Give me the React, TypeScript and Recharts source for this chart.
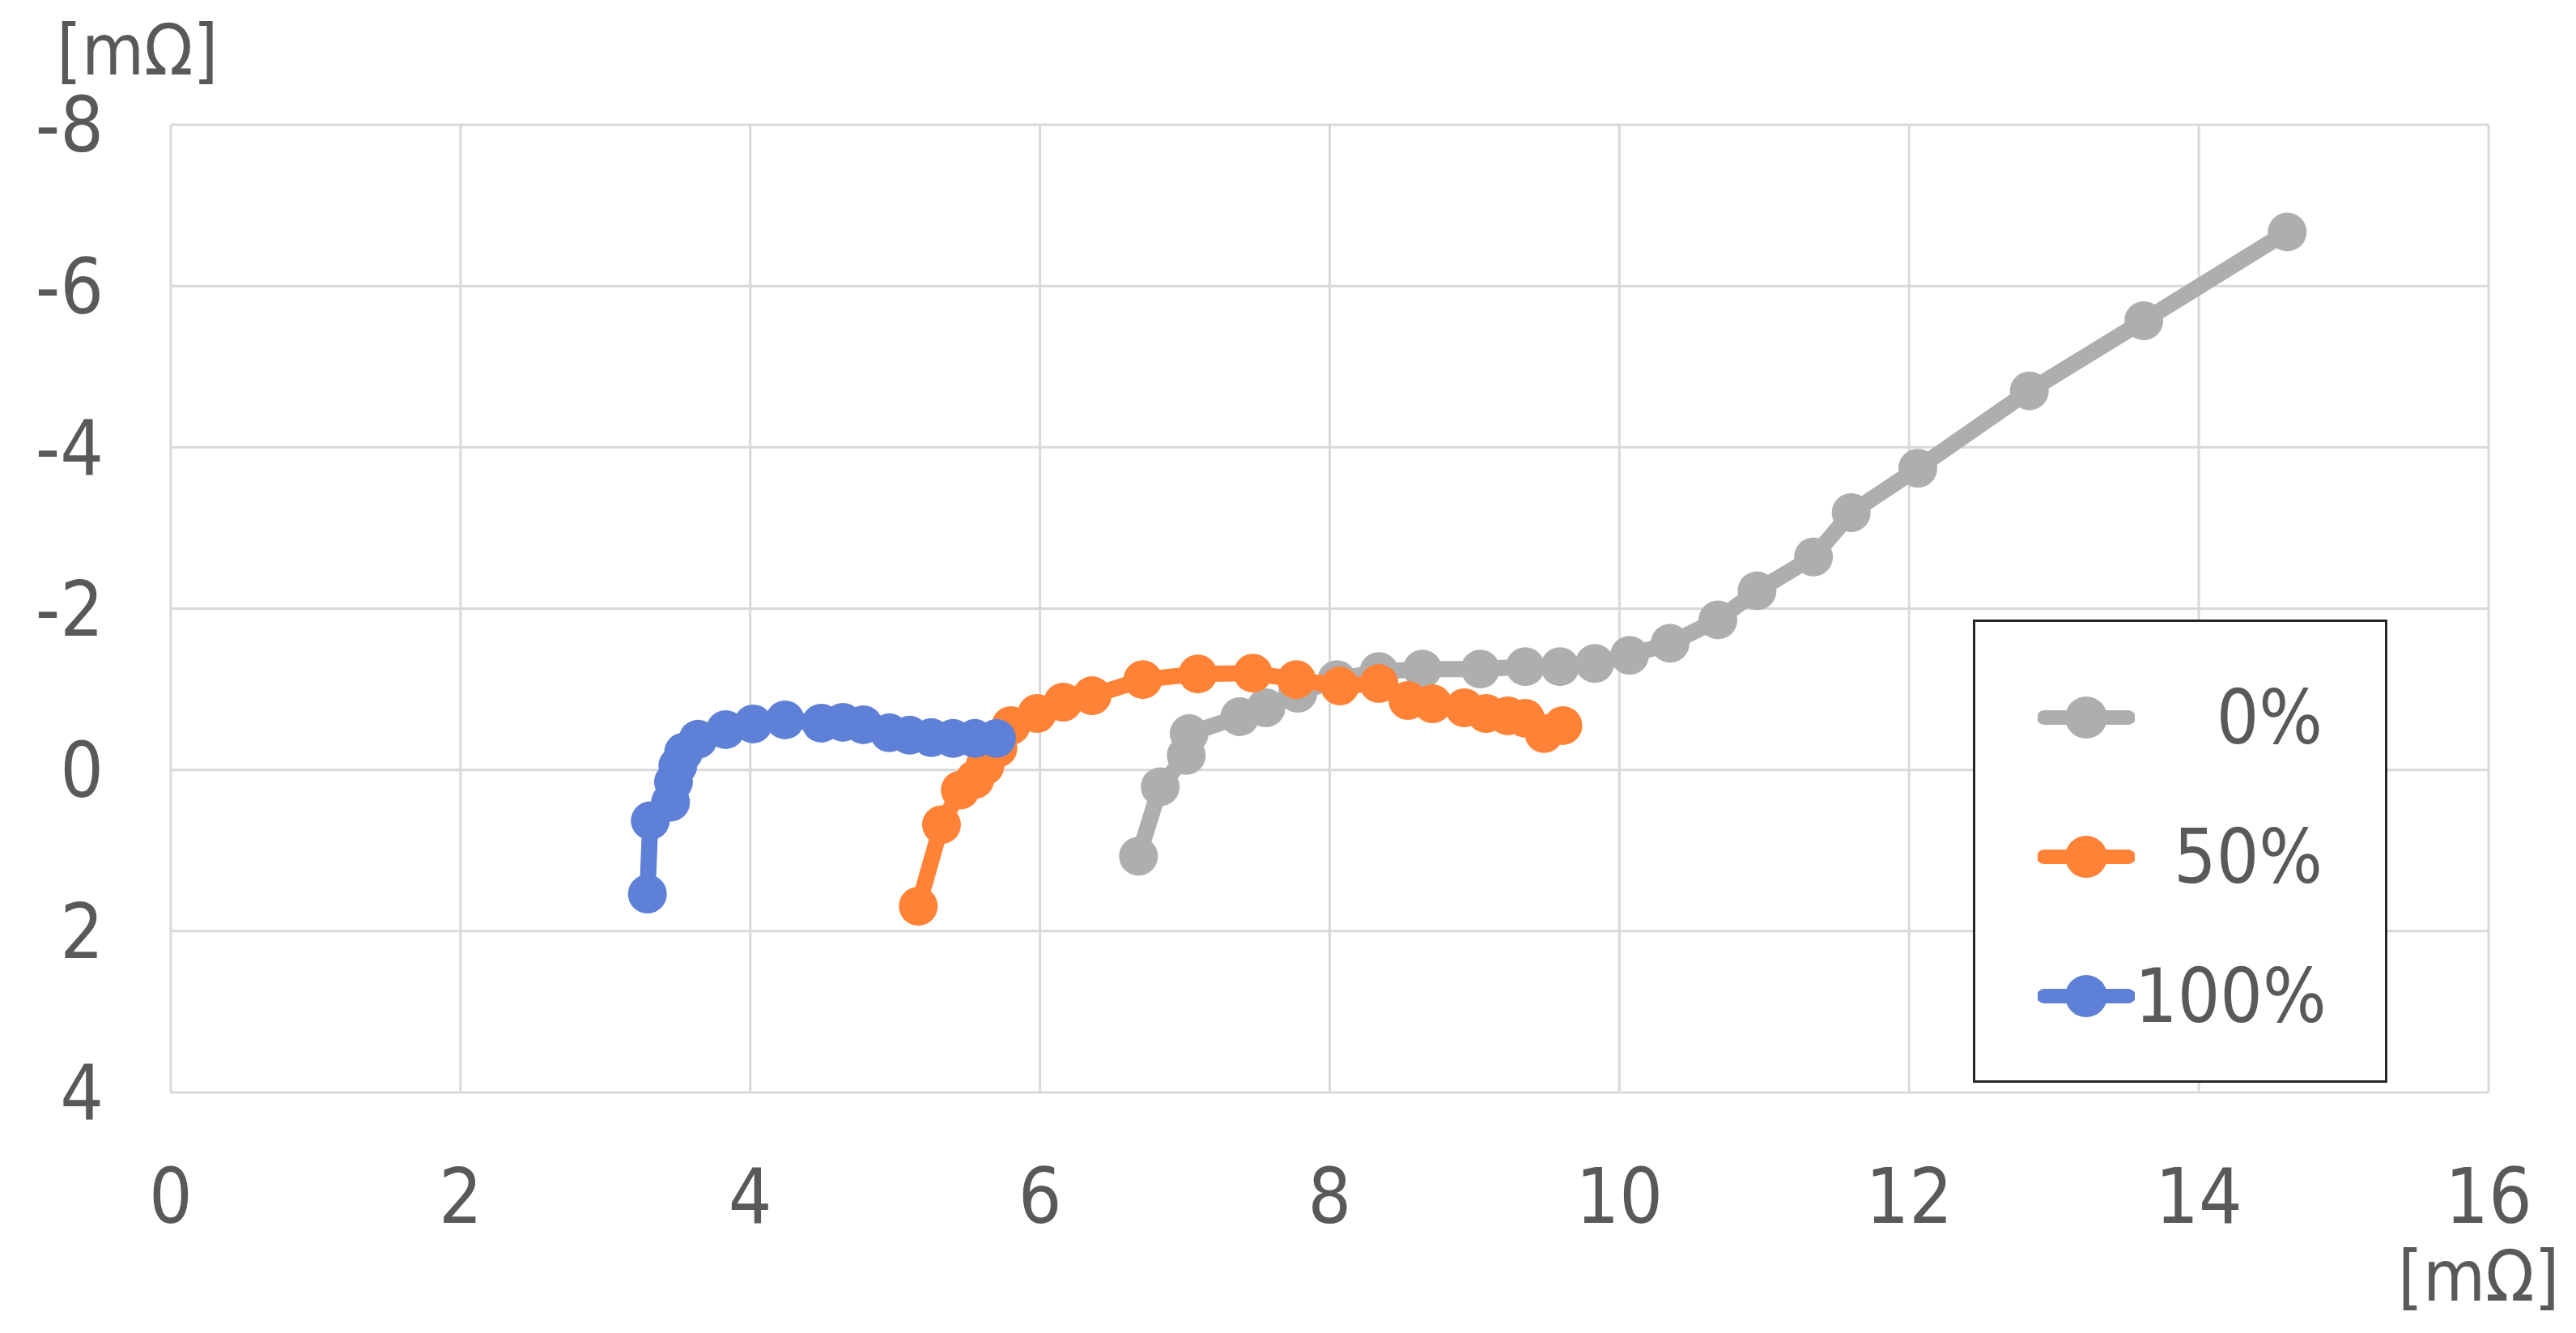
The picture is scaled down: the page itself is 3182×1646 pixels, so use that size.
import React from 'react';
import { ScatterChart, Scatter, XAxis, YAxis, CartesianGrid } from 'recharts';

const xTicks = [0, 2, 4, 6, 8, 10, 12, 14, 16];
const yTicks = [-8, -6, -4, -2, 0, 2, 4];

const seriesNames = ['0%', '50%', '100%'];
const seriesColors = ['#AEAEAE', '#FF8236', '#5E80D6'];

const x0 = [6.68, 6.83, 7.01, 7.03, 7.38, 7.56, 7.78, 8.05, 8.34, 8.64, 9.04, 9.35, 9.59, 9.83, 10.07, 10.35, 10.68, 10.95, 11.34, 11.6, 12.06, 12.83, 13.62, 14.61];
const y0 = [1.07, 0.21, -0.18, -0.45, -0.66, -0.77, -0.95, -1.12, -1.22, -1.25, -1.25, -1.28, -1.28, -1.32, -1.42, -1.57, -1.86, -2.22, -2.64, -3.19, -3.74, -4.7, -5.57, -6.67];

const x50 = [5.16, 5.32, 5.45, 5.55, 5.62, 5.71, 5.8, 5.98, 6.16, 6.36, 6.71, 7.09, 7.47, 7.77, 8.07, 8.34, 8.54, 8.71, 8.93, 9.08, 9.23, 9.35, 9.48, 9.61];
const y50 = [1.69, 0.68, 0.25, 0.12, -0.05, -0.27, -0.55, -0.7, -0.84, -0.92, -1.12, -1.19, -1.2, -1.12, -1.04, -1.07, -0.86, -0.82, -0.77, -0.7, -0.67, -0.64, -0.45, -0.55];

const x100 = [3.29, 3.31, 3.45, 3.47, 3.5, 3.54, 3.64, 3.83, 4.02, 4.24, 4.49, 4.64, 4.78, 4.96, 5.1, 5.25, 5.4, 5.55, 5.7];
const y100 = [1.54, 0.63, 0.4, 0.15, -0.05, -0.22, -0.38, -0.5, -0.57, -0.62, -0.58, -0.59, -0.56, -0.46, -0.43, -0.4, -0.39, -0.39, -0.39];

const toPoints = (xs: number[], ys: number[]) => xs.map((x, i) => ({ x, y: ys[i] }));
const seriesData = [toPoints(x0, y0), toPoints(x50, y50), toPoints(x100, y100)];

const FONT = "'DejaVu Sans Condensed', 'DejaVu Sans', sans-serif";
const TEXT = '#595959';

const dot = (color: string) => (p: any) => <circle cx={p.cx} cy={p.cy} r={24} fill={color} />;

function LegendBox() {
  return (
    <div style={{ position: 'absolute', left: 2437, top: 765, width: 506, height: 566, border: '3px solid #262626', background: '#fff', fontFamily: FONT }}>
      {seriesNames.map((name, i) => (
        <div key={name} style={{ position: 'absolute', left: 0, top: 68 + i * 172, height: 100, width: 506, display: 'flex', alignItems: 'center' }}>
          <svg width={120} height={60} style={{ marginLeft: 77 }}>
            <line x1={8} y1={30} x2={112} y2={30} stroke={seriesColors[i]} strokeWidth={18} strokeLinecap="round" />
            <circle cx={60} cy={30} r={26} fill={seriesColors[i]} />
          </svg>
          <div style={{ width: 232, textAlign: 'right', fontSize: 92, color: TEXT }}>{name}</div>
        </div>
      ))}
    </div>
  );
}

export default function App() {
  return (
    <div style={{ position: 'absolute', left: 0, top: 0, width: 3182, height: 1646, background: '#fff' }}>
      <ScatterChart width={3182} height={1646} margin={{ top: 154, right: 108, bottom: 97, left: 0 }}>
        <CartesianGrid stroke="#D9D9D9" strokeWidth={3} />
        <XAxis
          type="number"
          dataKey="x"
          domain={[0, 16]}
          ticks={xTicks}
          interval={0}
          axisLine={false}
          tickLine={false}
          tickMargin={88}
          height={200}
          tick={{ fill: TEXT, fontSize: 94, fontFamily: FONT }}
        />
        <YAxis
          type="number"
          dataKey="y"
          domain={[-8, 4]}
          ticks={yTicks}
          interval={0}
          reversed
          axisLine={false}
          tickLine={false}
          tickMargin={77}
          width={211}
          tick={{ fill: TEXT, fontSize: 94, fontFamily: FONT }}
        />
        {seriesData.map((d, i) => (
          <Scatter
            key={seriesNames[i]}
            name={seriesNames[i]}
            data={d}
            fill={seriesColors[i]}
            line={{ stroke: seriesColors[i], strokeWidth: 20 }}
            lineType="joint"
            shape={dot(seriesColors[i])}
            isAnimationActive={false}
          />
        ))}
      </ScatterChart>
      <LegendBox />
      <div style={{ position: 'absolute', left: 70, top: 18, fontSize: 88, lineHeight: '88px', color: TEXT, fontFamily: FONT }}>[mΩ]</div>
      <div style={{ position: 'absolute', left: 2962, top: 1532, fontSize: 88, lineHeight: '88px', color: TEXT, fontFamily: FONT }}>[mΩ]</div>
    </div>
  );
}
